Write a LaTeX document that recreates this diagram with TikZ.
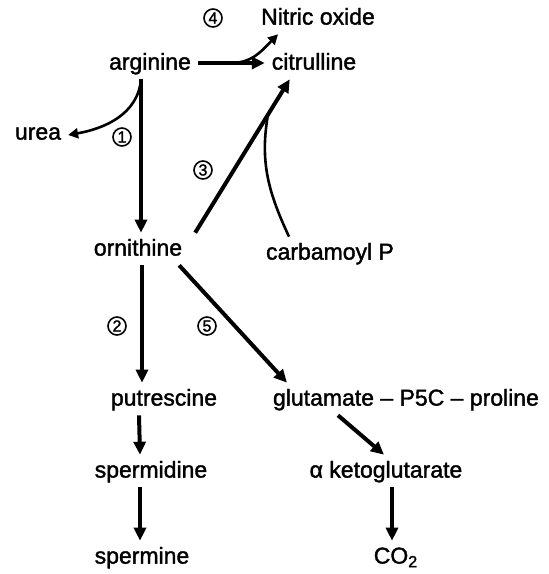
\documentclass[tikz,border=0pt]{standalone}
\usepackage{fontspec}
\setmainfont{Liberation Sans}[FakeBold=1.6]
\usepackage{tikz}
\usetikzlibrary{arrows.meta}
\tikzstyle{arrow} = [line width=2pt,-{Triangle[length=6.5pt,width=6pt]}]
\tikzstyle{sidearrow} = [line width=1.3pt,-{Triangle[length=5pt,width=5pt]}]
\tikzstyle{enzyme} = [circle,draw,line width=0.8pt,inner sep=0.5pt,minimum size=9pt,
  text height=5.5pt,text depth=0pt,font=\fontsize{8}{9}\selectfont]

\begin{document}
\begin{tikzpicture}[node distance=40pt,
  every node/.style={font=\fontsize{11.5}{13}\selectfont,text height=1.5ex,text depth=.25ex}]
\useasboundingbox (0,0) rectangle (274.5pt,-287pt);

\node (arg) at (75pt,-31.5pt) {arginine};
\node (cit) [right of=arg, node distance=82pt] {citrulline};
\node (nit) [above of=cit, node distance=22.5pt, xshift=2pt] {Nitric oxide};
\node (urea) [left of=arg, node distance=56pt, yshift=-35pt] {urea};
\node (orn) [below of=arg, node distance=93pt, xshift=-6pt] {ornithine};
\node (carb) [right of=orn, node distance=96pt, yshift=-2pt] {carbamoyl P};
\node (pu) [below of=orn, node distance=75pt, xshift=13pt] {putrescine};
\node (glu) [right of=pu, node distance=121pt] {glutamate – P5C – proline};
\node (sd) [below of=pu, node distance=36pt, xshift=-6.5pt] {spermidine};
\node (akg) [right of=sd, node distance=117.5pt] {α ketoglutarate};
\node (sm) [below of=sd, node distance=43pt, xshift=-4.5pt] {spermine};
\node (co2) [right of=sm, node distance=127pt] {CO\textsubscript{2}};

% enzyme numbers
\node (e4) [enzyme, above of=arg, node distance=22.5pt, xshift=31.5pt] {4};
\node (e1) [enzyme, below of=arg, node distance=37pt, xshift=-14pt] {1};
\node (e3) [enzyme, above of=orn, node distance=39.5pt, xshift=32.5pt] {3};
\node (e2) [enzyme, below of=orn, node distance=38.5pt, xshift=-10.5pt] {2};
\node (e5) [enzyme, below of=orn, node distance=38.5pt, xshift=34.5pt] {5};

\coordinate (a1) at ([xshift=-4.5pt]arg.south);
\draw [arrow] (a1) -- (a1 |- orn.north);
\draw [sidearrow] (a1) to[out=-95,in=10] ([yshift=-1pt]urea.east);

\draw [arrow] (arg) -- coordinate[pos=0.5] (a4) (cit);
\draw [sidearrow] (a4) to[out=0,in=-135] ([xshift=12pt]nit.south west);

\draw [arrow] ([xshift=3pt]orn.north east) -- coordinate[pos=0.77] (a3) ([xshift=12.5pt]cit.south west);
\draw [line width=1.3pt] ([xshift=15pt]carb.north west) to[out=115,in=-100] (a3);

\coordinate (o2) at ([xshift=2pt]orn.south);
\draw [arrow] (o2) -- (o2 |- pu.north);
\draw [arrow] ([xshift=-5pt]orn.south east) -- ([xshift=10.5pt]glu.north west);

\draw [arrow] ([xshift=-12.5pt]pu.south) -- ([xshift=-5.5pt]sd.north);
\draw [arrow] ([xshift=-5.5pt]sd.south) -- ([xshift=-1pt]sm.north);

\draw [arrow] ([xshift=-34pt]glu.south) -- ([xshift=-1pt]akg.north);
\draw [arrow] ([xshift=3pt]akg.south) -- ([xshift=-2pt]co2.north);
\end{tikzpicture}
\end{document}
